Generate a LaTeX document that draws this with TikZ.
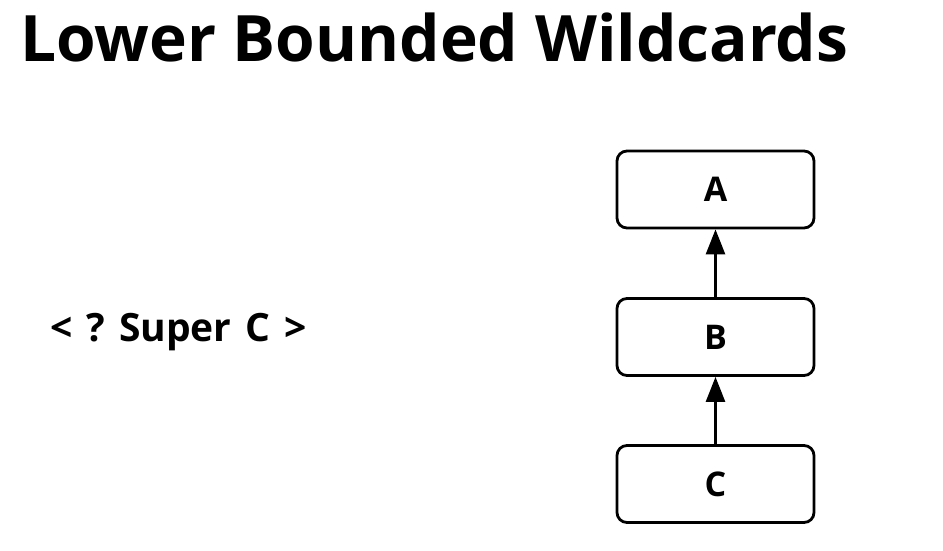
\documentclass[tikz,border=0pt]{standalone}
\usepackage{fontspec}
\setmainfont{Open Sans}
\usetikzlibrary{arrows.meta,positioning}
\tikzset{
  typebox/.style={draw=black,line width=2.8pt,rounded corners=10pt,fill=white,
    minimum width=197pt,minimum height=77pt,inner sep=0pt,
    font=\fontsize{34}{38}\selectfont\bfseries},
  super/.style={-{Triangle[length=25pt,width=19pt]},draw=black,line width=2.8pt},
}
\newcommand{\gap}{\hspace{0.36em}}
\begin{document}
\begin{tikzpicture}[x=1pt,y=-1pt]
  \useasboundingbox (0,0) rectangle (943,550);
  \node[anchor=base west,inner sep=0pt,font=\fontsize{64}{70}\selectfont\bfseries]
    (title) at (20,61) {Lower Bounded Wildcards};
  \node[anchor=base west,inner sep=0pt,font=\fontsize{39}{44}\selectfont\bfseries]
    (wild) at (50,341) {<\gap?\gap Super\gap C\gap>};
  \node[typebox] (A) at (715.5,189.5) {A};
  \node[typebox] (B) at (715.5,337) {B};
  \node[typebox] (C) at (715.5,484) {C};
  \draw[super] (B) -- (A);
  \draw[super] (C) -- (B);
\end{tikzpicture}
\end{document}
